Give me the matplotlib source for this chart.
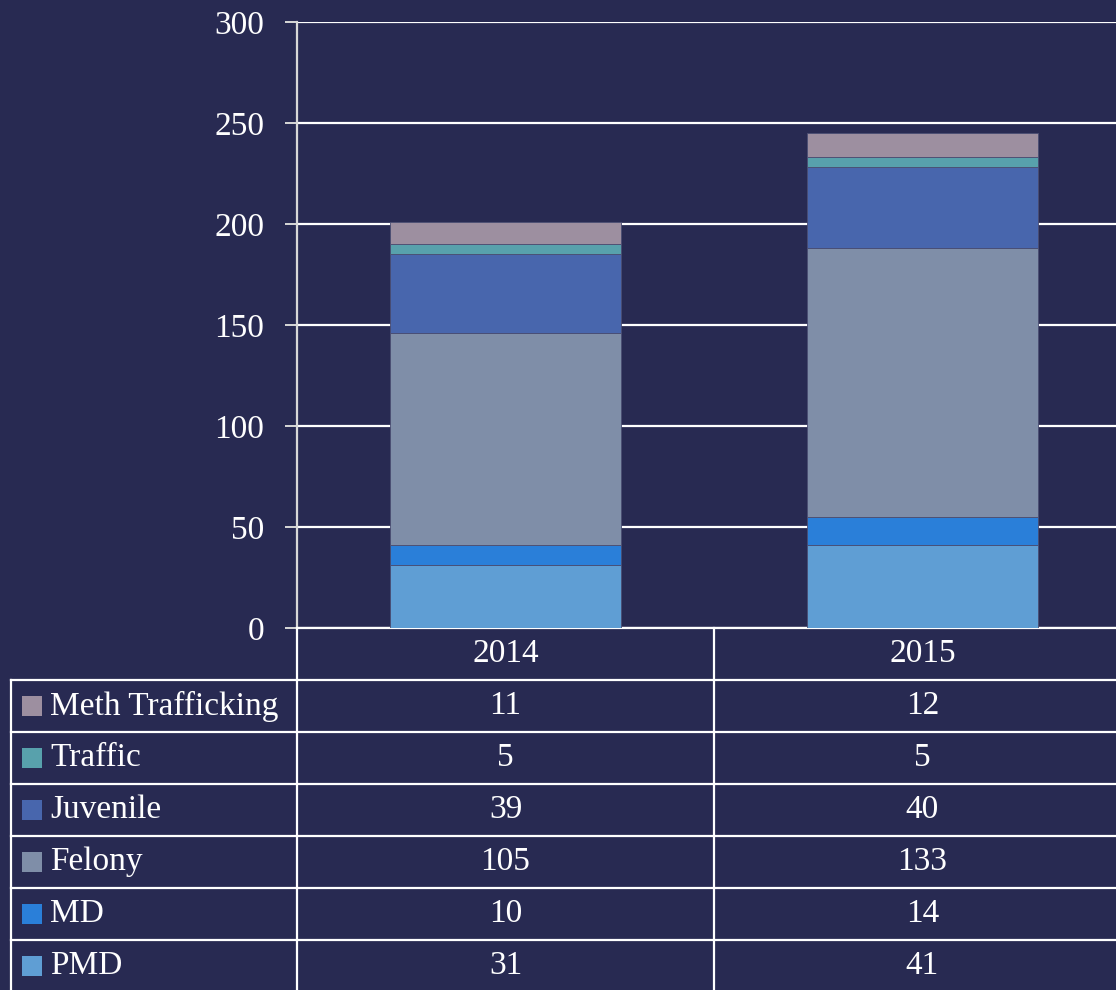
import numpy as np
import matplotlib
matplotlib.use("Agg")
import matplotlib.pyplot as plt
from matplotlib.patches import Rectangle
from matplotlib.lines import Line2D

years = ["2014", "2015"]
categories = ["PMD", "MD", "Felony", "Juvenile", "Traffic", "Meth Trafficking"]
pmd = [31, 41]
md = [10, 14]
felony = [105, 133]
juvenile = [39, 40]
traffic = [5, 5]
meth = [11, 12]
series = [pmd, md, felony, juvenile, traffic, meth]
colors = ["#5f9ed4", "#2a7fd9", "#7f8ea8", "#4866ad", "#58a1ac", "#9d8fa0"]

BG = "#282a52"
W, H = 1116, 990
FS = 24

plt.rcParams["font.family"] = ["Liberation Serif", "DejaVu Serif"]

fig = plt.figure(figsize=(W / 100, H / 100), dpi=100, facecolor=BG)


def fx(px):
    return px / W


def fy(py):
    return 1 - py / H


# plot area in pixels: left 297, right 1131 (runs past the edge), top 22, bottom 628
ax_l, ax_r, ax_t, ax_b = 297, 1131, 22, 628
ax = fig.add_axes([fx(ax_l), fy(ax_b), fx(ax_r - ax_l), (ax_b - ax_t) / H])
ax.set_facecolor("none")

x = np.arange(len(years))
bottom = np.zeros(len(years))
for vals, col in zip(series, colors):
    ax.bar(x, vals, width=0.556, bottom=bottom, color=col,
           edgecolor="#4a4d72", linewidth=0.6, zorder=3)
    bottom += np.array(vals)

ax.set_xlim(-0.5, len(years) - 0.5)
ax.set_ylim(0, 300)
ax.set_yticks(range(0, 301, 50))
ax.yaxis.grid(True, color="white", linewidth=1.6, zorder=0)
ax.set_xticks([])
for s in ["top", "right"]:
    ax.spines[s].set_visible(False)
ax.spines["left"].set_color("#d8d8d8")
ax.spines["left"].set_linewidth(1.6)
ax.spines["bottom"].set_color("white")
ax.spines["bottom"].set_linewidth(1.6)
ax.tick_params(axis="y", colors="#d8d8d8", length=8.5, width=1.4, pad=15,
               labelsize=FS, labelcolor="white")

# data table under the chart
row_h = 52
col_w = (ax_r - ax_l) / len(years)
tab_l = 11
lw = 1.6
rows = categories[::-1]
vals_rows = series[::-1]
cols_rows = colors[::-1]
n = len(rows)
tab_bottom = ax_b + row_h * (n + 1)

# header row text
for j, yr in enumerate(years):
    fig.text(fx(ax_l + col_w * (j + 0.5)), fy(ax_b + row_h / 2), yr,
             ha="center", va="center", color="white", fontsize=FS)

# horizontal lines
for i in range(n + 1):
    yy = ax_b + row_h * (i + 1)
    fig.add_artist(Line2D([fx(tab_l), fx(ax_r)], [fy(yy), fy(yy)],
                          color="white", linewidth=lw))
# vertical lines
fig.add_artist(Line2D([fx(tab_l), fx(tab_l)], [fy(ax_b + row_h), fy(tab_bottom)],
                      color="white", linewidth=lw))
for j in range(len(years) + 1):
    xx = ax_l + col_w * j
    fig.add_artist(Line2D([fx(xx), fx(xx)], [fy(ax_b), fy(tab_bottom)],
                          color="white", linewidth=lw))

for i, (name, vals, col) in enumerate(zip(rows, vals_rows, cols_rows)):
    yc = ax_b + row_h * (i + 1.5)
    sq = 20
    fig.add_artist(Rectangle((fx(22), fy(yc + sq / 2)), fx(sq), sq / H,
                             facecolor=col, edgecolor="none"))
    fig.text(fx(50), fy(yc), name, ha="left", va="center",
             color="white", fontsize=FS)
    for j, v in enumerate(vals):
        fig.text(fx(ax_l + col_w * (j + 0.5)), fy(yc), str(v),
                 ha="center", va="center", color="white", fontsize=FS)

fig.savefig("out.png", dpi=100, facecolor=BG)
